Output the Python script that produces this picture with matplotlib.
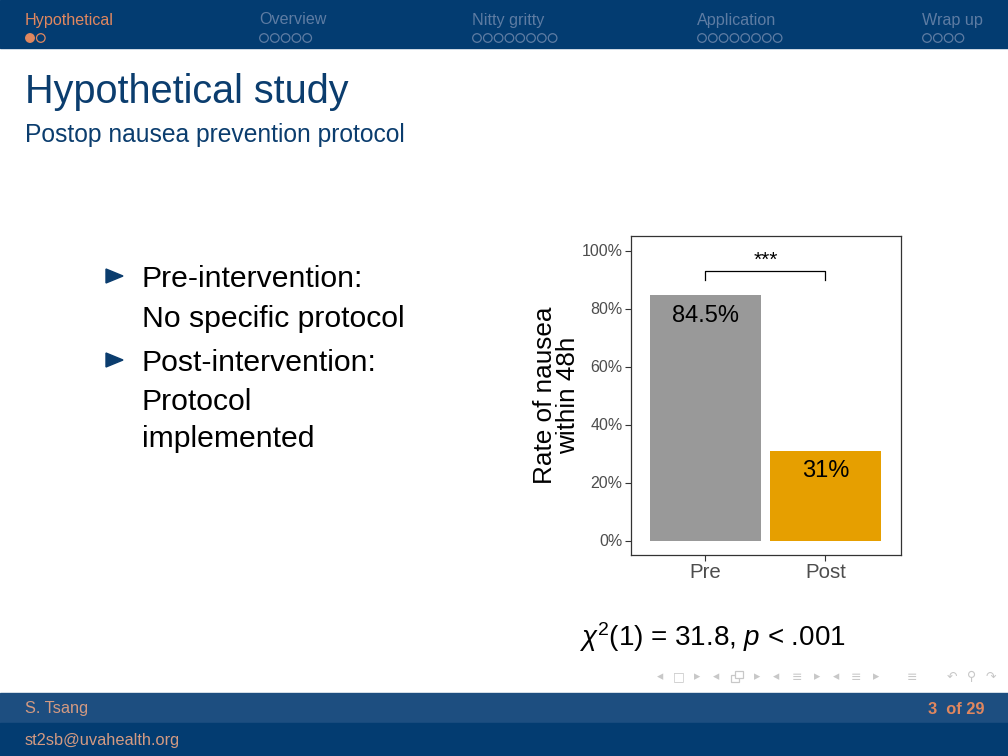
import matplotlib
matplotlib.use("Agg")
import matplotlib.pyplot as plt
from matplotlib.patches import Rectangle, Circle, Polygon

# data
groups = ["Pre", "Post"]
rates = [84.5, 31.0]
rate_labels = ["84.5%", "31%"]
bar_colors = ["#999999", "#E69F00"]
yticks = [0, 20, 40, 60, 80, 100]
sig_label = "***"
sig_height = 93
sig_drop = 3

nav_sections = ["Hypothetical", "Overview", "Nitty gritty", "Application", "Wrap up"]
nav_dots = [2, 5, 8, 8, 4]
bullets = [["Pre-intervention:", "No specific protocol"],
           ["Post-intervention:", "Protocol", "implemented"]]

plt.rcParams["font.family"] = ["Liberation Sans", "DejaVu Sans"]
plt.rcParams["mathtext.fontset"] = "custom"
plt.rcParams["mathtext.rm"] = "Liberation Sans"
plt.rcParams["mathtext.it"] = "Liberation Sans:italic"

navy = "#033C71"
navy_light = "#1D4E80"
orange = "#E0875F"
inactive = "#5E7CA3"

fig = plt.figure(figsize=(10.08, 7.56), dpi=100)

# slide canvas in pixel coords
bg = fig.add_axes([0, 0, 1, 1])
bg.set_xlim(0, 1008)
bg.set_ylim(756, 0)
bg.axis("off")

# header bar
bg.add_patch(Rectangle((0, 0), 1008, 48, color=navy, zorder=0))
nav_x = [25, 259, 472, 697, 922]
for i, (name, n) in enumerate(zip(nav_sections, nav_dots)):
    col = orange if i == 0 else inactive
    bg.text(nav_x[i], 20, name, color=col, fontsize=11.6, va="center", ha="left")
    for k in range(n):
        filled = (i == 0 and k == 0)
        bg.add_patch(Circle((nav_x[i] + 5 + k * 10.8, 38), 4.3,
                            facecolor=orange if filled else "none",
                            edgecolor=orange if i == 0 else inactive, lw=0.9))

# title
bg.text(25, 92, "Hypothetical study", color="#0B3D6E", fontsize=28.5, va="center")
bg.text(25, 135, "Postop nausea prevention protocol", color="#0B3D6E", fontsize=17.7, va="center")

# bullets
line_y = [[279, 319], [363, 402, 439]]
for lines, ys in zip(bullets, line_y):
    bg.add_patch(Polygon([(106, ys[0] - 10), (106, ys[0] + 4), (123, ys[0] - 3)],
                         closed=True, color="#0B3D6E"))
    for txt, y in zip(lines, ys):
        bg.text(142, y, txt, fontsize=21.7, va="center", color="black")

# chi-square result
bg.text(712, 637, r"$\chi^2$(1) = 31.8, $p$ < .001", fontsize=20, ha="center", va="center")

# beamer navigation symbols
nav_syms = [(660, "◂"), (679, "□"), (697, "▸"), (716, "◂"), (757, "▸"),
            (776, "◂"), (797, "≡"), (817, "▸"), (836, "◂"), (856, "≡"), (876, "▸"),
            (912, "≡"), (952, "↶"), (972, "⚲"), (991, "↷")]
for x, s in nav_syms:
    bg.text(x, 677, s, fontsize=9, color="#C8C8C8", ha="center", va="center",
            family=["DejaVu Sans"])
# stacked-frames icon drawn as two offset squares
bg.add_patch(Rectangle((731, 675), 8, 7, facecolor="white", edgecolor="#C8C8C8", lw=0.9))
bg.add_patch(Rectangle((735, 671), 8, 7, facecolor="white", edgecolor="#C8C8C8", lw=0.9))

# footer
bg.add_patch(Rectangle((0, 693), 1008, 30, color=navy_light, zorder=0))
bg.add_patch(Rectangle((0, 723), 1008, 33, color=navy, zorder=0))
bg.text(25, 709, "S. Tsang", color="#D39A82", fontsize=11.8, va="center")
bg.text(25, 740, "st2sb@uvahealth.org", color="#D39A82", fontsize=11.8, va="center")
bg.text(985, 709, "3  of 29", color=orange, fontsize=11.8, va="center", ha="right",
        fontweight="bold")

# bar chart
ax = fig.add_axes([631 / 1008, (756 - 555) / 756, 270 / 1008, 319 / 756])
x = range(len(groups))
ax.bar(x, rates, width=0.925, color=bar_colors)
for xi, r, lab in zip(x, rates, rate_labels):
    ax.text(xi, r - 3.2, lab, ha="center", va="top", fontsize=17, color="black")

ax.plot([0, 0, 1, 1], [sig_height - sig_drop, sig_height, sig_height, sig_height - sig_drop],
        color="black", lw=0.9)
ax.text(0.5, sig_height + 0.3, sig_label, ha="center", va="bottom", fontsize=15)

ax.set_xlim(-0.62, 1.63)
ax.set_ylim(-5, 105)
ax.set_yticks(yticks)
ax.set_yticklabels([f"{t}%" for t in yticks], color="#4D4D4D", fontsize=11.5)
ax.set_xticks(list(x))
ax.set_xticklabels(groups, color="#4D4D4D", fontsize=14.7)
ax.tick_params(axis="both", length=4, width=0.8, color="#333333", pad=2)
for sp in ax.spines.values():
    sp.set_color("#333333")
    sp.set_linewidth(0.9)
ax.set_ylabel("Rate of nausea\nwithin 48h", fontsize=18.8, labelpad=1, linespacing=0.95)

fig.savefig("out.png", dpi=100)
